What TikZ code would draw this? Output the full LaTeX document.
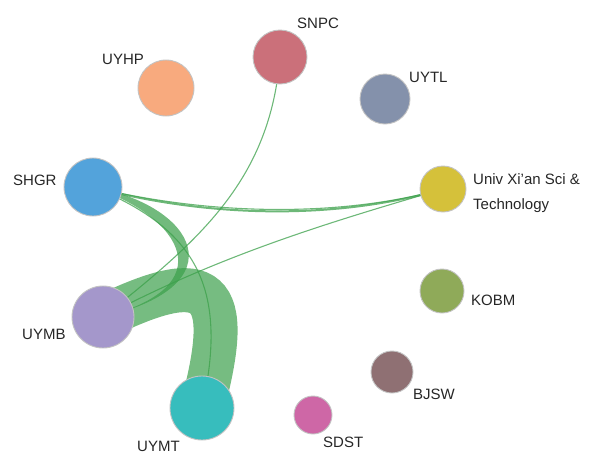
\documentclass[tikz,border=0pt]{standalone}
\usepackage{fontspec}
\setmainfont{Liberation Sans}
\definecolor{cUYHP}{RGB}{248,170,126}
\definecolor{cSNPC}{RGB}{203,112,122}
\definecolor{cUYTL}{RGB}{132,145,171}
\definecolor{cUNIV}{RGB}{213,193,58}
\definecolor{cSHGR}{RGB}{83,163,219}
\definecolor{cUYMB}{RGB}{164,151,203}
\definecolor{cUYMT}{RGB}{55,189,189}
\definecolor{cSDST}{RGB}{206,103,166}
\definecolor{cBJSW}{RGB}{143,112,115}
\definecolor{cKOBM}{RGB}{143,170,89}
\definecolor{edgegreen}{RGB}{60,160,75}
\definecolor{ringgray}{RGB}{195,195,195}
\tikzset{
  vert/.style={circle, draw=ringgray, line width=0.9pt, inner sep=0pt, minimum size=#1},
  lab/.style={anchor=base west, inner sep=0pt, font=\fontsize{15}{18}\selectfont, text=black!85},
  thinedge/.style={draw=edgegreen, draw opacity=0.75, line width=1.1pt},
  bandedge/.style={draw=edgegreen, draw opacity=0.7, line width=44pt},
  ribbon/.style={fill=edgegreen, fill opacity=0.72},
}
\begin{document}
\begin{tikzpicture}[x=1pt,y=-1pt]
\useasboundingbox (0,0) rectangle (593,453);
% node positions
\coordinate (pUYHP) at (166,88);
\coordinate (pSNPC) at (280,57);
\coordinate (pUYTL) at (385,99);
\coordinate (pUNIV) at (443,189);
\coordinate (pSHGR) at (93,187);
\coordinate (pUYMB) at (103,317);
\coordinate (pUYMT) at (202,408);
\coordinate (pSDST) at (313,415);
\coordinate (pBJSW) at (392,372);
\coordinate (pKOBM) at (442,291);
% edges
\path[bandedge] (pUYMB) .. controls (210,265) and (235,285) .. (pUYMT);
\path[ribbon] (pSHGR) .. controls (195,205) and (240,285) .. (pUYMB)
   .. controls (223,287) and (184,218) .. (pSHGR);
\path[thinedge] (pSHGR) .. controls (200,230) and (228,292) .. (pUYMT);
\path[thinedge] (pSNPC) .. controls (270,180) and (200,240) .. (pUYMB);
\path[thinedge] (pUYMB) .. controls (220,255) and (330,222) .. (pUNIV);
\path[thinedge, line width=2pt] (pSHGR) .. controls (200,216) and (330,222) .. (pUNIV);
\path[thinedge] (pSHGR) .. controls (202,214) and (334,219) .. (pUNIV);
% nodes
\node[vert=56pt, fill=cUYHP] (UYHP) at (pUYHP) {};
\node[vert=54pt, fill=cSNPC] (SNPC) at (pSNPC) {};
\node[vert=50pt, fill=cUYTL] (UYTL) at (pUYTL) {};
\node[vert=46pt, fill=cUNIV] (UNIV) at (pUNIV) {};
\node[vert=58pt, fill=cSHGR] (SHGR) at (pSHGR) {};
\node[vert=62pt, fill=cUYMB] (UYMB) at (pUYMB) {};
\node[vert=64pt, fill=cUYMT] (UYMT) at (pUYMT) {};
\node[vert=38pt, fill=cSDST] (SDST) at (pSDST) {};
\node[vert=42pt, fill=cBJSW] (BJSW) at (pBJSW) {};
\node[vert=44pt, fill=cKOBM] (KOBM) at (pKOBM) {};
% labels
\node[lab] (lUYHP) at (102,64) {UYHP};
\node[lab] (lSNPC) at (297,28) {SNPC};
\node[lab] (lUYTL) at (409,82) {UYTL};
\node[lab] (lUNIV1) at (473,184) {Univ Xi’an Sci \&};
\node[lab] (lUNIV2) at (473,209) {Technology};
\node[lab] (lSHGR) at (13,185) {SHGR};
\node[lab] (lUYMB) at (22,339) {UYMB};
\node[lab] (lUYMT) at (137,451) {UYMT};
\node[lab] (lSDST) at (323,447) {SDST};
\node[lab] (lBJSW) at (413,399) {BJSW};
\node[lab] (lKOBM) at (471,305) {KOBM};
\end{tikzpicture}
\end{document}
